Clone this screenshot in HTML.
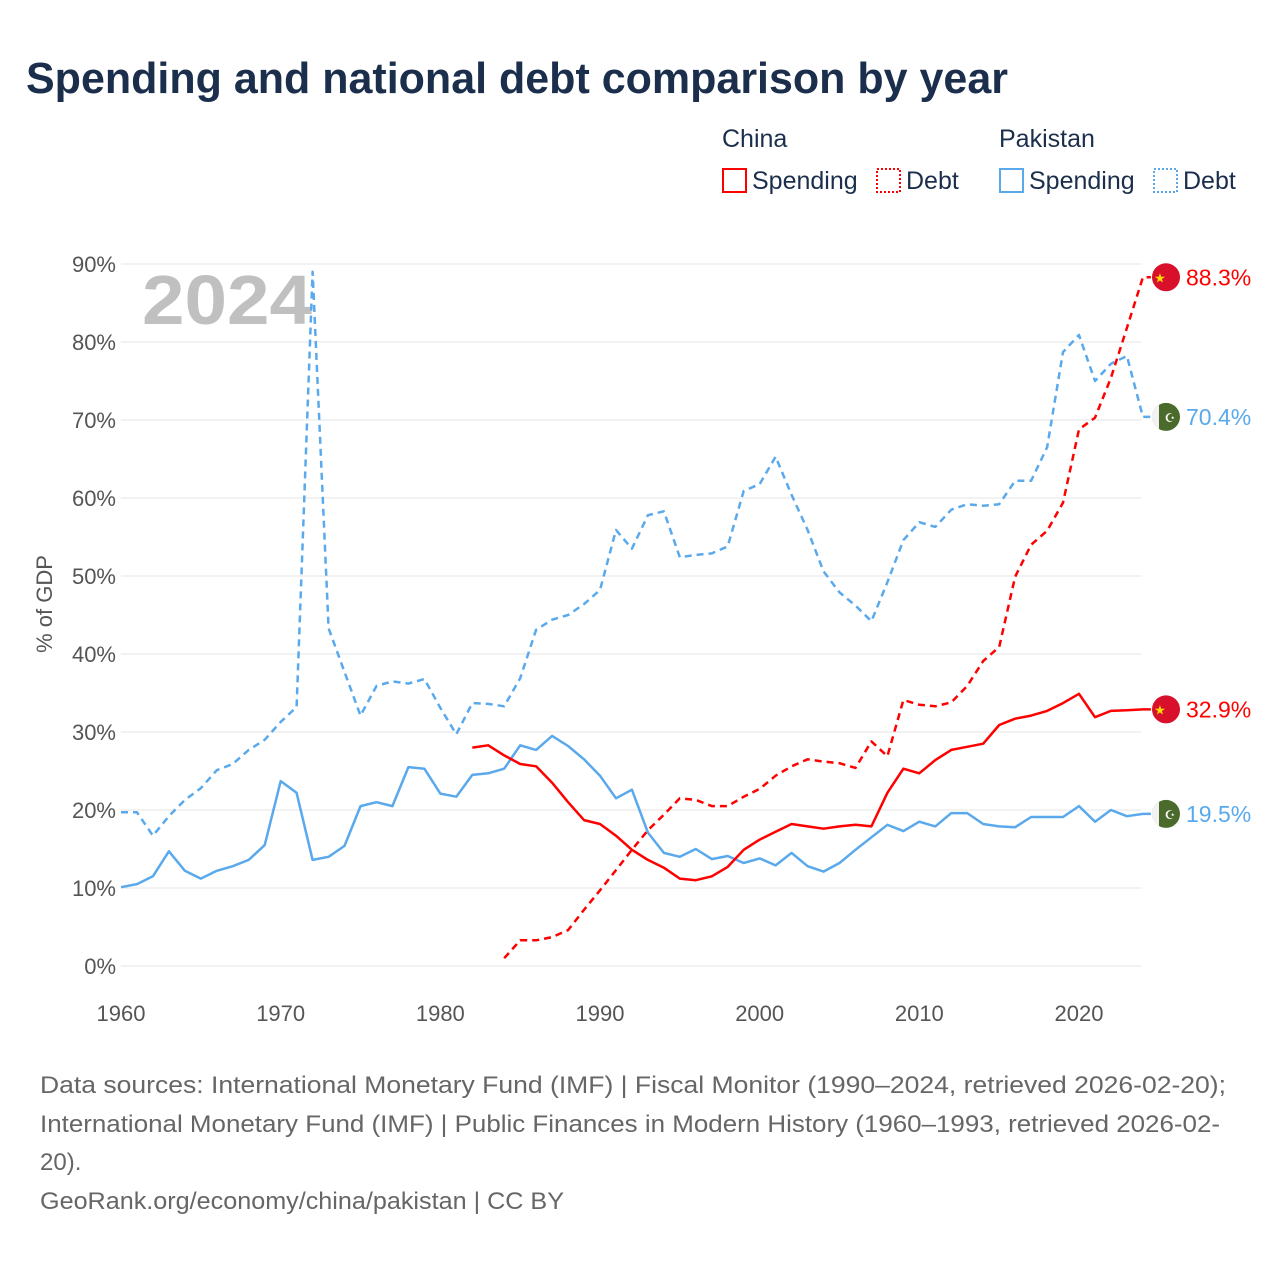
<!DOCTYPE html>
<html><head><meta charset="utf-8"><style>
html,body{margin:0;padding:0;background:#fff}
svg{display:block;font-family:"Liberation Sans",sans-serif}
</style></head><body>
<svg id="chart" width="1280" height="1280" viewBox="0 0 1280 1280">
<text x="26" y="93" font-size="44" font-weight="bold" fill="#1b2f4d" textLength="982" lengthAdjust="spacingAndGlyphs">Spending and national debt comparison by year</text>
<g font-size="25" fill="#1b2f4d">
<text x="722" y="147">China</text>
<text x="999" y="147">Pakistan</text>
<g><rect x="723" y="169" width="23" height="23" fill="none" stroke="#f00" stroke-width="2"/><text x="752" y="189">Spending</text></g>
<g><rect x="877" y="169" width="23" height="23" fill="none" stroke="#f00" stroke-width="2" stroke-dasharray="2 2"/><text x="906" y="189">Debt</text></g>
<g><rect x="1000" y="169" width="23" height="23" fill="none" stroke="#5aa9ec" stroke-width="2"/><text x="1029" y="189">Spending</text></g>
<g><rect x="1154" y="169" width="23" height="23" fill="none" stroke="#5aa9ec" stroke-width="2" stroke-dasharray="2 2"/><text x="1183" y="189">Debt</text></g>
</g>
<g id="grid"></g>
<text x="142" y="324" font-size="70" font-weight="bold" fill="#c0c0c0" textLength="170" lengthAdjust="spacingAndGlyphs">2024</text>
<g id="series"></g>
<text transform="translate(52,604) rotate(-90)" text-anchor="middle" font-size="22" fill="#555">% of GDP</text>
<g id="ends"></g>
<g font-size="24" fill="#666">
<text x="40" y="1093" textLength="1186" lengthAdjust="spacingAndGlyphs">Data sources: International Monetary Fund (IMF) | Fiscal Monitor (1990–2024, retrieved 2026-02-20);</text>
<text x="40" y="1132" textLength="1180" lengthAdjust="spacingAndGlyphs">International Monetary Fund (IMF) | Public Finances in Modern History (1960–1993, retrieved 2026-02-</text>
<text x="40" y="1170">20).</text>
<text x="40" y="1209" textLength="524" lengthAdjust="spacingAndGlyphs">GeoRank.org/economy/china/pakistan | CC BY</text>
</g>
</svg>
<script>
const yTicks=[0,10,20,30,40,50,60,70,80,90];
const xTicks=[1960,1970,1980,1990,2000,2010,2020];
const pakDebtStart=1960;
const pakDebt=[19.7,19.7,16.7,19.2,21.3,22.8,25.1,25.9,27.7,29.0,31.3,33.2,89.0,43.3,37.7,32.1,35.9,36.5,36.2,36.8,33.1,29.7,33.7,33.6,33.3,36.9,43.1,44.4,45.0,46.4,48.2,55.9,53.5,57.8,58.3,52.4,52.7,52.9,53.8,60.9,61.8,65.3,60.4,55.9,50.6,47.9,46.2,44.2,49.2,54.6,56.9,56.3,58.5,59.2,59.0,59.2,62.2,62.2,66.5,78.7,80.9,75.0,77.2,78.2,70.4];
const pakSpendStart=1960;
const pakSpend=[10.1,10.5,11.5,14.7,12.2,11.2,12.2,12.8,13.6,15.5,23.7,22.2,13.6,14.0,15.4,20.5,21.0,20.5,25.5,25.3,22.1,21.7,24.5,24.7,25.3,28.3,27.7,29.5,28.2,26.5,24.4,21.5,22.6,17.1,14.5,14.0,15.0,13.7,14.1,13.2,13.8,12.9,14.5,12.8,12.1,13.2,14.9,16.5,18.1,17.3,18.5,17.9,19.6,19.6,18.2,17.9,17.8,19.1,19.1,19.1,20.5,18.5,20.0,19.2,19.5];
const chnSpendStart=1982;
const chnSpend=[28.0,28.3,27.0,25.9,25.6,23.5,21.0,18.7,18.2,16.7,14.9,13.6,12.6,11.2,11.0,11.5,12.7,14.9,16.2,17.2,18.2,17.9,17.6,17.9,18.1,17.9,22.2,25.3,24.7,26.4,27.7,28.1,28.5,30.9,31.7,32.1,32.7,33.7,34.9,31.9,32.7,32.8,32.9];
const chnDebtStart=1984;
const chnDebt=[1.0,3.3,3.3,3.7,4.6,7.2,9.7,12.3,14.9,17.4,19.4,21.5,21.3,20.5,20.5,21.7,22.7,24.4,25.6,26.5,26.2,26.0,25.4,28.8,26.9,34.1,33.5,33.3,33.8,35.9,39.1,40.9,49.9,54.0,55.8,59.4,68.8,70.3,75.4,81.8,88.3];

const NS='http://www.w3.org/2000/svg';
const X=y=>121+(y-1960)*(958/60);
const Y=v=>966-v*7.8;
function mk(tag,attrs,parent){const e=document.createElementNS(NS,tag);for(const k in attrs)e.setAttribute(k,attrs[k]);parent.appendChild(e);return e;}
const grid=document.getElementById('grid');
yTicks.forEach(t=>{
  const l=mk('line',{x1:121,x2:1141,y1:Y(t),y2:Y(t),stroke:'#e6e6e6','stroke-width':1},grid);
  
  
  const tx=mk('text',{x:116,y:Y(t)+8,'text-anchor':'end','font-size':22,fill:'#555'},grid);
  tx.textContent=t+'%';
  
  
});
xTicks.forEach(t=>{
  const tx=mk('text',{x:X(t),y:1021,'text-anchor':'middle','font-size':22,fill:'#555'},grid);
  tx.textContent=t;
  
  
});
const series=document.getElementById('series');
function line(start,vals,color,dash,name){
  const pts=vals.map((v,i)=>X(start+i).toFixed(1)+','+Y(v).toFixed(1));
  pts.push((X(start+vals.length-1)+8).toFixed(1)+','+Y(vals[vals.length-1]).toFixed(1));
  const p=mk('polyline',{points:pts.join(' '),fill:'none',stroke:color,'stroke-width':2.5,'stroke-linejoin':'round'},series);
  if(dash)p.setAttribute('stroke-dasharray','7 5');
  
  
}
line(pakDebtStart,pakDebt,'#5aa9ec',true,'pakistan-debt-line');
line(pakSpendStart,pakSpend,'#5aa9ec',false,'pakistan-spending-line');
line(chnSpendStart,chnSpend,'#f00',false,'china-spending-line');
line(chnDebtStart,chnDebt,'#f00',true,'china-debt-line');
const ends=document.getElementById('ends');
function endLabel(v,color,isChina,name){
  const g=mk('g',{},ends);
  
  
  const cy=Y(v);
  if(isChina){
    mk('circle',{cx:1166,cy:cy,r:14,fill:'#d8102a'},g);
    const s=mk('text',{x:1160,y:cy+5,'font-size':13,fill:'#ffde00','text-anchor':'middle'},g);s.textContent='★';
  }else{
    mk('circle',{cx:1166,cy:cy,r:14,fill:'#4a6b2c'},g);
    mk('path',{d:`M1159 ${cy-12.2} A14 14 0 0 0 1159 ${cy+12.2} Z`,fill:'#f2f2f2'},g);
    const s=mk('text',{x:1170,y:cy+5,'font-size':12,fill:'#fff','text-anchor':'middle'},g);s.textContent='☪';
  }
  const t=mk('text',{x:1186,y:cy+8,'font-size':23,fill:color},g);
  t.textContent=v.toFixed(1)+'%';
}
endLabel(chnDebt[chnDebt.length-1],'#f00',true,'china-debt-end-label');
endLabel(pakDebt[pakDebt.length-1],'#5aa9ec',false,'pakistan-debt-end-label');
endLabel(chnSpend[chnSpend.length-1],'#f00',true,'china-spending-end-label');
endLabel(pakSpend[pakSpend.length-1],'#5aa9ec',false,'pakistan-spending-end-label');
</script>
</body></html>
